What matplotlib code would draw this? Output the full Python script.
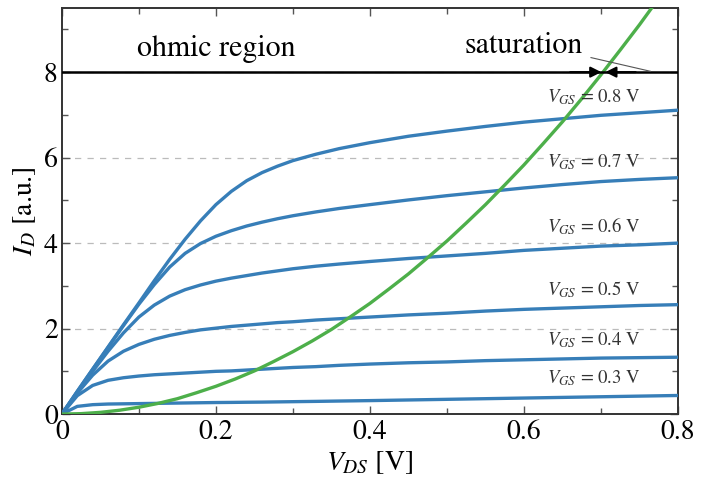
import matplotlib
matplotlib.use("Agg")
import matplotlib.pyplot as plt
from matplotlib.ticker import MultipleLocator

plt.rcParams['font.family'] = ['STIXGeneral', 'DejaVu Serif']
plt.rcParams['mathtext.fontset'] = 'stix'

# ---- data ----
vds = [0, 0.02, 0.04, 0.06, 0.08, 0.10, 0.12, 0.14, 0.16, 0.18, 0.20, 0.22,
       0.24, 0.26, 0.28, 0.30, 0.33, 0.36, 0.40, 0.45, 0.50, 0.55, 0.60,
       0.65, 0.70, 0.75, 0.80]
id_08 = [0, 0.53, 1.05, 1.57, 2.09, 2.60, 3.12, 3.62, 4.09, 4.52, 4.90, 5.21,
         5.46, 5.65, 5.80, 5.93, 6.08, 6.21, 6.35, 6.50, 6.62, 6.73, 6.83,
         6.91, 6.99, 7.05, 7.11]
id_07 = [0, 0.53, 1.05, 1.56, 2.07, 2.57, 3.03, 3.44, 3.76, 3.99, 4.16, 4.29,
         4.40, 4.49, 4.57, 4.64, 4.73, 4.81, 4.90, 5.01, 5.11, 5.20, 5.29,
         5.37, 5.44, 5.49, 5.53]
id_06 = [0, 0.51, 1.00, 1.47, 1.90, 2.27, 2.55, 2.76, 2.91, 3.02, 3.11, 3.18,
         3.24, 3.30, 3.35, 3.40, 3.46, 3.51, 3.57, 3.64, 3.70, 3.76, 3.83,
         3.88, 3.93, 3.96, 4.00]
id_05 = [0, 0.49, 0.91, 1.24, 1.47, 1.63, 1.75, 1.84, 1.91, 1.97, 2.01, 2.05,
         2.08, 2.11, 2.14, 2.16, 2.20, 2.23, 2.27, 2.32, 2.36, 2.41, 2.45,
         2.48, 2.51, 2.54, 2.56]
id_04 = [0, 0.43, 0.67, 0.79, 0.85, 0.89, 0.92, 0.94, 0.96, 0.98, 1.00, 1.01,
         1.03, 1.05, 1.07, 1.09, 1.11, 1.14, 1.17, 1.20, 1.22, 1.25, 1.27,
         1.29, 1.31, 1.32, 1.33]
id_03 = [0, 0.18, 0.22, 0.235, 0.24, 0.245, 0.25, 0.255, 0.26, 0.265, 0.27,
         0.273, 0.277, 0.28, 0.285, 0.29, 0.297, 0.305, 0.315, 0.33, 0.345,
         0.36, 0.375, 0.39, 0.405, 0.42, 0.435]
curves = [id_03, id_04, id_05, id_06, id_07, id_08]
vgs_labels = ['0.3', '0.4', '0.5', '0.6', '0.7', '0.8']
label_y = [0.84, 1.73, 2.92, 4.40, 5.90, 7.42]

sat_vds = [0, 0.025, 0.05, 0.075, 0.10, 0.125, 0.15, 0.175, 0.20, 0.225,
           0.25, 0.275, 0.30, 0.325, 0.35, 0.375, 0.40, 0.425, 0.45, 0.475,
           0.50, 0.525, 0.55, 0.575, 0.60, 0.625, 0.65, 0.675, 0.70, 0.725,
           0.75, 0.775, 0.80]
sat_id = [0, 0.01, 0.04, 0.09, 0.16, 0.25, 0.36, 0.50, 0.65, 0.82, 1.01,
          1.23, 1.46, 1.71, 1.98, 2.28, 2.59, 2.93, 3.28, 3.66, 4.05, 4.47,
          4.90, 5.36, 5.83, 6.33, 6.84, 7.38, 7.94, 8.52, 9.11, 9.73, 10.37]

blue = '#377eb8'
green = '#4daf4a'

fig = plt.figure(figsize=(7.03, 4.86), dpi=100)
ax = fig.add_axes([0.088, 0.148, 0.8765, 0.8355])

for c in curves:
    ax.plot(vds, c, color=blue, lw=2.4, zorder=3, solid_capstyle='round',
            solid_joinstyle='round')
ax.plot(sat_vds, sat_id, color=green, lw=2.4, zorder=4)

ax.axhline(8, color='black', lw=1.8, zorder=5)

for lab, yy in zip(vgs_labels, label_y):
    ax.text(0.630, yy, r'$V_{GS}$ = %s V' % lab, fontsize=13.5, color='#333333',
            ha='left', va='center', zorder=6)

ax.text(0.201, 8.55, 'ohmic region', fontsize=21.5, ha='center', va='center')
ax.text(0.599, 8.62, 'saturation', fontsize=21.5, ha='center', va='center')
ax.plot([0.687, 0.764], [8.34, 8.02], color='#555555', lw=0.8, zorder=5)

ax.annotate('', xy=(0.7005, 8), xytext=(0.66, 8),
            arrowprops=dict(arrowstyle='-|>', color='black', lw=1.5,
                            mutation_scale=16, shrinkA=0, shrinkB=0), zorder=6)
ax.annotate('', xy=(0.7055, 8), xytext=(0.745, 8),
            arrowprops=dict(arrowstyle='-|>', color='black', lw=1.5,
                            mutation_scale=16, shrinkA=0, shrinkB=0), zorder=6)

ax.set_xlim(0, 0.8)
ax.set_ylim(0, 9.5)
ax.xaxis.set_major_locator(MultipleLocator(0.2))
ax.xaxis.set_minor_locator(MultipleLocator(0.1))
ax.yaxis.set_major_locator(MultipleLocator(2))
ax.yaxis.set_minor_locator(MultipleLocator(1))
ax.set_xticks([0, 0.2, 0.4, 0.6, 0.8])
ax.set_xticklabels(['0', '0.2', '0.4', '0.6', '0.8'])
ax.yaxis.grid(True, which='major', ls=(0, (5, 5)), color='#bbbbbb', lw=0.9)
ax.set_axisbelow(True)
ax.tick_params(which='both', direction='in', top=True, right=True,
               color='#555555', labelsize=20)
ax.tick_params(which='major', length=6, width=1)
ax.tick_params(which='minor', length=4, width=1)
ax.tick_params(axis='x', pad=4)
ax.tick_params(axis='y', pad=3)
for s in ax.spines.values():
    s.set_color('#333333')
    s.set_linewidth(1.4)

ax.set_xlabel(r'$V_{DS}$ [V]', fontsize=20, labelpad=3)
ax.set_ylabel(r'$I_D$ [a.u.]', fontsize=20, labelpad=4)

fig.savefig('out.png', dpi=100)
